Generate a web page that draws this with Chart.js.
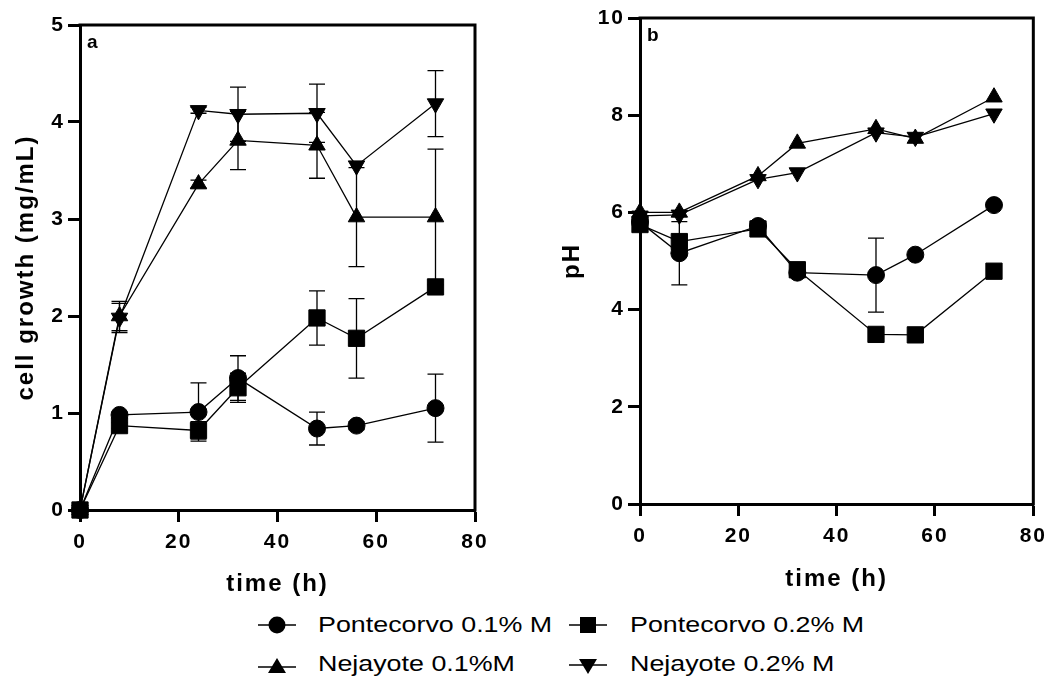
<!DOCTYPE html>
<html>
<head>
<meta charset="utf-8">
<script src="https://cdn.jsdelivr.net/npm/chart.js@4.4.0/dist/chart.umd.min.js"></script>
<style>
  body { margin: 0; background: #fff; width: 1055px; height: 687px; overflow: hidden; position: relative;
         font-family: 'Liberation Sans', Arial, Helvetica, sans-serif; color: #000; }
  #boxA { position: absolute; left: 0; top: 0; width: 500px; height: 600px; }
  #boxB { position: absolute; left: 530px; top: 0; width: 525px; height: 600px; }
  .mk { position: absolute; width: 38px; height: 24px; }
  .lbl { position: absolute; font-size: 22px; line-height: 22px; white-space: nowrap;
         transform: scaleX(1.22); transform-origin: left center; }
</style>
</head>
<body>
<div id="boxA"><canvas id="growth"></canvas></div>
<div id="boxB"><canvas id="ph"></canvas></div>

<!-- shared legend -->
<svg class="mk" style="left:258px; top:613px" viewBox="0 0 38 24"><line x1="0" y1="12" x2="38" y2="12" stroke="#000" stroke-width="1.5"/><circle cx="19" cy="12" r="8.5" fill="#000"/></svg>
<div class="lbl" style="left:318px; top:614px">Pontecorvo 0.1% M</div>
<svg class="mk" style="left:569px; top:613px" viewBox="0 0 38 24"><line x1="0" y1="12" x2="38" y2="12" stroke="#000" stroke-width="1.5"/><rect x="11" y="4" width="16" height="16" fill="#000"/></svg>
<div class="lbl" style="left:630px; top:614px">Pontecorvo 0.2% M</div>
<svg class="mk" style="left:258px; top:654px" viewBox="0 0 38 24"><line x1="0" y1="13" x2="38" y2="13" stroke="#000" stroke-width="1.5"/><polygon points="19,4 28,19 10,19" fill="#000"/></svg>
<div class="lbl" style="left:318px; top:653px">Nejayote 0.1%M</div>
<svg class="mk" style="left:569px; top:654px" viewBox="0 0 38 24"><line x1="0" y1="11" x2="38" y2="11" stroke="#000" stroke-width="1.5"/><polygon points="10,5 28,5 19,20" fill="#000"/></svg>
<div class="lbl" style="left:630px; top:653px">Nejayote 0.2% M</div>

<script>
// sampling times (h)
const hours = [0, 8, 24, 32, 48, 56, 72];
const seriesNames = ['Pontecorvo 0.1% M', 'Pontecorvo 0.2% M', 'Nejayote 0.1%M', 'Nejayote 0.2% M'];

// panel a: cell growth (mg/mL), mean and SD
const growthPont01 = [0, 0.98, 1.01, 1.36, 0.84, 0.87, 1.05];
const growthPont01Sd = [0, 0.03, 0.30, 0.23, 0.17, 0.04, 0.35];
const growthPont02 = [0, 0.87, 0.82, 1.26, 1.98, 1.77, 2.30];
const growthPont02Sd = [0, 0.03, 0.09, 0.15, 0.28, 0.41, 0];
const growthNej01 = [0, 2.00, 3.36, 3.81, 3.76, 3.02, 3.02];
const growthNej01Sd = [0, 0.15, 0.04, 0.30, 0.34, 0.51, 0.70];
const growthNej02 = [0, 1.98, 4.12, 4.08, 4.09, 3.55, 4.19];
const growthNej02Sd = [0, 0.15, 0.03, 0.28, 0.30, 0, 0.34];

// panel b: pH
const phPont01 = [5.80, 5.16, 5.72, 4.76, 4.71, 5.13, 6.15];
const phPont01Sd = [0, 0.65, 0, 0, 0.76, 0, 0];
const phPont02 = [5.75, 5.40, 5.66, 4.82, 3.49, 3.48, 4.79];
const phNej01 = [6.00, 6.00, 6.75, 7.42, 7.72, 7.52, 8.37];
const phNej02 = [5.93, 5.95, 6.68, 6.82, 7.64, 7.55, 8.03];

const xTicks = [0, 20, 40, 60, 80];
const growthTicks = [0, 1, 2, 3, 4, 5];
const phTicks = [0, 2, 4, 6, 8, 10];

const FONT = "'Liberation Sans', Arial, Helvetica, sans-serif";
const markers = [
  { pointStyle: 'circle', pointRadius: 8.5, pointRotation: 0 },
  { pointStyle: 'rect', pointRadius: 11.5, pointRotation: 0 },
  { pointStyle: 'triangle', pointRadius: 9.5, pointRotation: 0 },
  { pointStyle: 'triangle', pointRadius: 9.5, pointRotation: 180 }
];

function makeSet(idx, values, sd) {
  return Object.assign({
    label: seriesNames[idx],
    data: hours.map((h, i) => ({ x: h, y: values[i] })),
    errors: sd || null,
    borderColor: '#000',
    borderWidth: 1.3,
    backgroundColor: '#000',
    pointBackgroundColor: '#000',
    pointBorderColor: '#000',
    pointBorderWidth: 1,
    pointHoverRadius: 9,
    tension: 0,
    clip: false
  }, markers[idx]);
}

// closed frame, error bars and panel letter
const frame = {
  id: 'frame',
  beforeLayout(chart) { chart.ctx.letterSpacing = '2px'; },
  beforeDraw(chart) { chart.ctx.letterSpacing = '2px'; },
  beforeDatasetsDraw(chart, args, opts) {
    const { ctx, chartArea: a, scales } = chart;
    const xs = scales.x, ys = scales.y;
    ctx.save();
    ctx.strokeStyle = '#000';
    ctx.lineWidth = 3;
    ctx.lineJoin = 'miter';
    ctx.beginPath();
    ctx.moveTo(a.left - 1.5, a.top);
    ctx.lineTo(a.right, a.top);
    ctx.lineTo(a.right, a.bottom + 1.5);
    ctx.stroke();

    ctx.lineWidth = 1.3;
    chart.data.datasets.forEach(ds => {
      if (!ds.errors) return;
      ds.data.forEach((p, i) => {
        const e = ds.errors[i];
        if (!e) return;
        const px = xs.getPixelForValue(p.x);
        const hi = ys.getPixelForValue(p.y + e);
        const lo = ys.getPixelForValue(p.y - e);
        ctx.beginPath();
        ctx.moveTo(px, hi); ctx.lineTo(px, lo);
        ctx.moveTo(px - 8, hi); ctx.lineTo(px + 8, hi);
        ctx.moveTo(px - 8, lo); ctx.lineTo(px + 8, lo);
        ctx.stroke();
      });
    });

    ctx.letterSpacing = '0.5px';
    ctx.fillStyle = '#000';
    ctx.font = 'bold 19px ' + FONT;
    ctx.textAlign = 'left';
    ctx.textBaseline = 'alphabetic';
    ctx.fillText(opts.letter, a.left + 7, a.top + 23);
    ctx.restore();
  }
};

function axisOpts(cfg) {
  return {
    type: 'linear',
    min: cfg.min,
    max: cfg.max,
    afterFit(scale) {
      if (scale.isHorizontal()) scale.height = cfg.size; else scale.width = cfg.size;
    },
    afterBuildTicks(scale) { scale.ticks = cfg.ticks.map(v => ({ value: v })); },
    border: { display: true, color: '#000', width: 3 },
    grid: { drawOnChartArea: false, drawTicks: true, tickLength: 12, tickWidth: 3, tickColor: '#000', color: '#000' },
    ticks: { color: '#000', padding: cfg.tickPad, font: { family: FONT, size: 21, weight: 'bold' } },
    title: {
      display: true, text: cfg.title, color: '#000',
      padding: cfg.titlePad,
      font: { family: FONT, size: 24, weight: 'bold', lineHeight: 1.2 }
    }
  };
}

function build(id, datasets, letter, pad, xCfg, yCfg) {
  return new Chart(document.getElementById(id), {
    type: 'line',
    data: { datasets: datasets },
    options: {
      responsive: true,
      maintainAspectRatio: false,
      animation: false,
      layout: { padding: pad },
      plugins: { legend: { display: false }, tooltip: { enabled: false }, frame: { letter: letter } },
      scales: { x: axisOpts(xCfg), y: axisOpts(yCfg) }
    },
    plugins: [frame]
  });
}

build('growth', [
  makeSet(0, growthPont01, growthPont01Sd),
  makeSet(1, growthPont02, growthPont02Sd),
  makeSet(2, growthNej01, growthNej01Sd),
  makeSet(3, growthNej02, growthNej02Sd)
], 'a', { top: 25, right: 25, left: 0, bottom: 0 },
  { min: 0, max: 80, ticks: xTicks, size: 90, tickPad: 8, title: 'time (h)', titlePad: { top: 0, bottom: 1 } },
  { min: 0, max: 5, ticks: growthTicks, size: 80, tickPad: 3, title: 'cell growth (mg/mL)', titlePad: { top: 12, bottom: 0 } });

build('ph', [
  makeSet(0, phPont01, phPont01Sd),
  makeSet(1, phPont02, null),
  makeSet(2, phNej01, null),
  makeSet(3, phNej02, null)
], 'b', { top: 18, right: 17, left: 0, bottom: 0 },
  { min: 0, max: 80, ticks: xTicks, size: 96, tickPad: 8, title: 'time (h)', titlePad: { top: 0, bottom: 6 } },
  { min: 0, max: 10, ticks: phTicks, size: 110, tickPad: 3, title: 'pH', titlePad: { top: 28, bottom: 0 } });
</script>
</body>
</html>
